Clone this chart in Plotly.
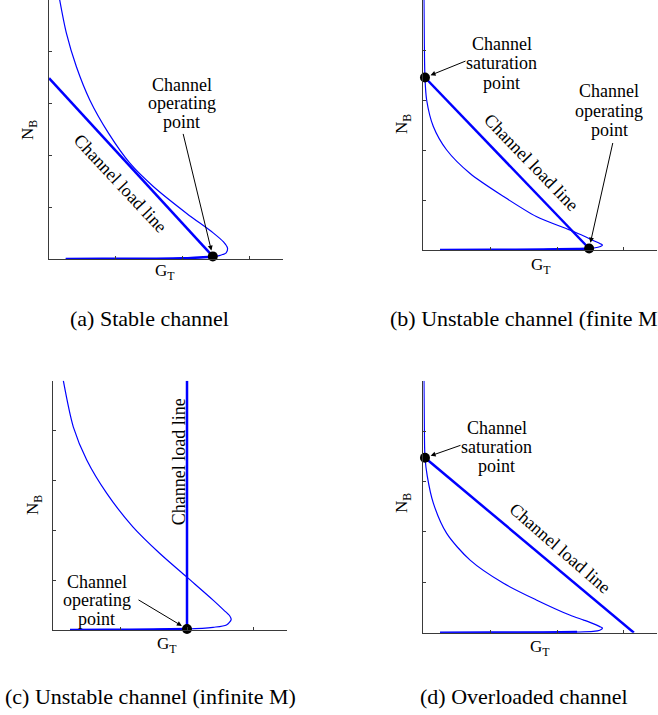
import plotly.graph_objects as go

W, H = 658, 715
FONT = "Liberation Serif, Tinos, Times New Roman, DejaVu Serif, serif"
BLUE = "#0000ff"

# ---------------- data (axis units: x 0..3.5, y 0..5) ----------------
# (a) Stable channel
a_curve_x = [0.16, 0.26, 0.41, 0.61, 0.89, 1.21, 1.56, 2.06, 2.46, 2.61, 2.67, 2.65, 2.56, 2.46, 2.0, 1.5, 0.8, 0.25]
a_curve_y = [5.0, 4.36, 3.71, 3.07, 2.43, 1.85, 1.40, 0.88, 0.50, 0.33, 0.21, 0.12, 0.07, 0.045, 0.013, 0.006, 0.003, 0.0]
a_lower_x = [2.46, 2.0, 1.5, 0.8, 0.25]
a_lower_y = [0.045, 0.013, 0.006, 0.003, 0.0]
a_load_x = [0.0, 2.45]
a_load_y = [3.49, 0.05]
a_op = (2.45, 0.05)

# (b) Unstable channel (finite M)
b_curve_x = [0.01, 0.015, 0.025, 0.05, 0.15, 0.35, 0.70, 1.20, 1.69, 2.19, 2.40, 2.54, 2.64, 2.68, 2.65, 2.55, 2.30, 1.80, 1.0, 0.25]
b_curve_y = [5.0, 4.2, 3.45, 3.0, 2.47, 2.0, 1.53, 1.07, 0.67, 0.40, 0.28, 0.19, 0.13, 0.10, 0.07, 0.04, 0.02, 0.01, 0.005, 0.0]
b_lower_x = [2.48, 2.30, 1.80, 1.0, 0.25]
b_lower_y = [0.03, 0.02, 0.01, 0.005, 0.0]
b_load_x = [0.025, 2.48]
b_load_y = [3.45, 0.03]
b_sat = (0.025, 3.45)
b_op = (2.48, 0.03)

# (c) Unstable channel (infinite M)
c_curve_x = [0.15, 0.30, 0.50, 0.80, 1.19, 1.59, 1.99, 2.39, 2.55, 2.64, 2.66, 2.59, 2.39, 2.0, 1.5, 0.8, 0.25]
c_curve_y = [5.0, 4.07, 3.41, 2.74, 2.07, 1.54, 1.07, 0.60, 0.40, 0.28, 0.21, 0.10, 0.054, 0.02, 0.01, 0.004, 0.0]
c_lower_x = [2.0, 1.5, 0.8, 0.25]
c_lower_y = [0.02, 0.01, 0.004, 0.0]
c_load_x = [2.0, 2.0]
c_load_y = [0.0, 5.0]
c_op = (2.0, 0.02)

# (d) Overloaded channel
d_curve_x = [0.01, 0.015, 0.025, 0.06, 0.15, 0.35, 0.70, 1.20, 1.69, 2.19, 2.40, 2.54, 2.64, 2.68, 2.64, 2.54, 2.30, 1.80, 1.0, 0.25]
d_curve_y = [5.0, 4.2, 3.49, 3.10, 2.57, 1.97, 1.44, 0.98, 0.65, 0.35, 0.25, 0.18, 0.12, 0.09, 0.05, 0.025, 0.012, 0.006, 0.002, 0.0]
d_lower_x = [2.30, 1.80, 1.0, 0.25]
d_lower_y = [0.012, 0.006, 0.002, 0.0]
d_load_x = [0.025, 3.15]
d_load_y = [3.47, 0.0]
d_sat = (0.025, 3.47)

x_ticks = [1, 2, 3]
y_ticks = [1, 2, 3, 4, 5]

captions = ["(a) Stable channel", "(b) Unstable channel (finite M)",
            "(c) Unstable channel (infinite M)", "(d) Overloaded channel"]
op_lines = ["Channel", "operating", "point"]
sat_lines = ["Channel", "saturation", "point"]
load_label = "Channel load line"

# ---------------- layout helpers ----------------
def fx(p):
    return p / W

def fy(p):
    return 1 - p / H

# panel boxes in pixels: (left, right, bottom, top)
boxes = [(49, 283, 259, 0), (423.3, 657.3, 250, 0),
         (53.3, 287.3, 630, 380.7), (423.3, 657.3, 632.7, 380.7)]

fig = go.Figure()
layout = dict(width=W, height=H, margin=dict(l=0, r=0, t=0, b=0),
              paper_bgcolor="white", plot_bgcolor="white", showlegend=False,
              font=dict(family=FONT, color="black"))

for i, (l, r, b, t) in enumerate(boxes):
    sfx = "" if i == 0 else str(i + 1)
    common = dict(showgrid=False, zeroline=False, showline=True, linecolor="#3a3a3a",
                  linewidth=1, ticks="inside", ticklen=3, tickcolor="#3a3a3a",
                  showticklabels=False, fixedrange=True)
    layout["xaxis" + sfx] = dict(domain=[fx(l), fx(r)], range=[0, 3.5], tickvals=x_ticks,
                                 anchor="y" + sfx, **common)
    layout["yaxis" + sfx] = dict(domain=[fy(b), fy(t)], range=[0, 5], tickvals=y_ticks,
                                 anchor="x" + sfx, **common)

panels = [
    (a_curve_x, a_curve_y, a_lower_x, a_lower_y, a_load_x, a_load_y, [a_op]),
    (b_curve_x, b_curve_y, b_lower_x, b_lower_y, b_load_x, b_load_y, [b_sat, b_op]),
    (c_curve_x, c_curve_y, c_lower_x, c_lower_y, c_load_x, c_load_y, [c_op]),
    (d_curve_x, d_curve_y, d_lower_x, d_lower_y, d_load_x, d_load_y, [d_sat]),
]

for i, (cx, cy, lx, ly, ldx, ldy, pts) in enumerate(panels):
    xa = "x" if i == 0 else "x" + str(i + 1)
    ya = "y" if i == 0 else "y" + str(i + 1)
    fig.add_trace(go.Scatter(x=cx, y=cy, mode="lines", xaxis=xa, yaxis=ya,
                             line=dict(color=BLUE, width=1.2, shape="spline", smoothing=0.8)))
    fig.add_trace(go.Scatter(x=lx, y=ly, mode="lines", xaxis=xa, yaxis=ya,
                             line=dict(color=BLUE, width=2.5, shape="spline", smoothing=0.8)))
    fig.add_trace(go.Scatter(x=ldx, y=ldy, mode="lines", xaxis=xa, yaxis=ya,
                             line=dict(color=BLUE, width=2.5)))
    fig.add_trace(go.Scatter(x=[p[0] for p in pts], y=[p[1] for p in pts], mode="markers",
                             xaxis=xa, yaxis=ya, cliponaxis=False,
                             marker=dict(color="black", size=10)))

ann = []

def text(x, y, s, size=18, angle=0, xanchor="center"):
    ann.append(dict(x=fx(x), y=fy(y), xref="paper", yref="paper", text=s, showarrow=False,
                    xanchor=xanchor, yanchor="middle", textangle=angle,
                    font=dict(family=FONT, size=size, color="black")))

def arrow(xr, yr, pt, ax, ay):
    ann.append(dict(x=pt[0], y=pt[1], xref=xr, yref=yr, text="", showarrow=True,
                    ax=ax, ay=ay, arrowhead=2, arrowsize=1, arrowwidth=1,
                    arrowcolor="black", standoff=6))

def lines(x, ys, words):
    for yy, w in zip(ys, words):
        text(x, yy, w)

CAP = 22

# (a)
lines(181.5, [85, 103.5, 122], op_lines)
arrow("x", "y", a_op, -30, -124)
text(120, 183, load_label, angle=47)
text(165, 272, "G<sub>T</sub>", size=17)
text(29, 130, "N<sub>B</sub>", size=17, angle=-90)
text(149, 318, captions[0], size=CAP)

# (b)
lines(501.7, [44, 63.5, 83], sat_lines)
arrow("x2", "y2", b_sat, 42, -17)
lines(609.3, [91, 110.5, 130], op_lines)
arrow("x2", "y2", b_op, 24, -107)
text(531, 162, load_label, angle=46)
text(541, 266, "G<sub>T</sub>", size=17)
text(403, 124, "N<sub>B</sub>", size=17, angle=-90)
text(388, 318, captions[1], size=CAP, xanchor="left")

# (c)
lines(96.7, [581.5, 600, 618.5], op_lines)
arrow("x3", "y3", c_op, -50, -30)
text(178.5, 461.7, load_label, angle=-90)
text(167, 645, "G<sub>T</sub>", size=17)
text(34, 505, "N<sub>B</sub>", size=17, angle=-90)
text(150.5, 696, captions[2], size=CAP)

# (d)
lines(496.7, [427.5, 446.5, 466], sat_lines)
arrow("x4", "y4", d_sat, 37, -13)
text(560, 547.5, load_label, angle=41)
text(540, 648, "G<sub>T</sub>", size=17)
text(403, 503, "N<sub>B</sub>", size=17, angle=-90)
text(524, 696, captions[3], size=CAP)

layout["annotations"] = ann
fig.update_layout(**layout)
fig.write_html("out.html", config={"displayModeBar": False},
               post_script="document.body.style.margin='0';document.body.style.padding='0';")
